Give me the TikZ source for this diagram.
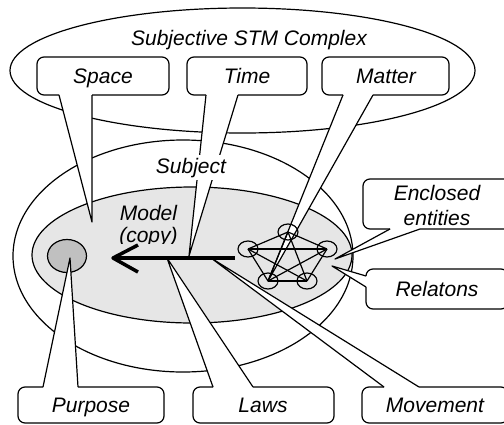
\documentclass[tikz,border=0pt]{standalone}
\usepackage{fontspec}
\setmainfont{Liberation Sans}
\usetikzlibrary{shapes.geometric}
\definecolor{lgrey}{HTML}{E6E6E6}
\definecolor{mgrey}{HTML}{C0C0C0}
% callout with pointer on the bottom edge: x1, ytop, x2, ybot, base left, base right, tip
\newcommand\cbot[7]{%
  \fill[white,rounded corners=7pt] (#1,#2) rectangle (#3,#4);
  \fill[white] (#5,#4) -- (#7) -- (#6,#4) -- cycle;
  \draw[lw,rounded corners=7pt] (#6,#4) -- (#3,#4) -- (#3,#2) -- (#1,#2) -- (#1,#4) -- (#5,#4);
  \draw[lw,line join=round] (#5,#4) -- (#7) -- (#6,#4);
}
% callout with pointer on the top edge
\newcommand\ctop[7]{%
  \fill[white,rounded corners=7pt] (#1,#2) rectangle (#3,#4);
  \fill[white] (#5,#2) -- (#7) -- (#6,#2) -- cycle;
  \draw[lw,rounded corners=7pt] (#5,#2) -- (#1,#2) -- (#1,#4) -- (#3,#4) -- (#3,#2) -- (#6,#2);
  \draw[lw,line join=round] (#5,#2) -- (#7) -- (#6,#2);
}
\begin{document}
\begin{tikzpicture}[x=1pt,y=-1pt,
  lw/.style={line width=1.2pt},
  lbl/.style={font=\fontsize{21}{24}\selectfont\itshape, inner sep=0pt, anchor=base},
  pent/.style={draw, lw, ellipse, minimum width=20pt, minimum height=16pt, inner sep=0pt}]
\useasboundingbox (0,0) rectangle (504,424);
\clip (0,0) rectangle (504,424);

% ellipses
\draw[lw] (242.5,70.5) ellipse [x radius=232.5pt, y radius=62.5pt];
\draw[lw] (183,256) ellipse [x radius=170pt, y radius=116pt];
\draw[lw, fill=lgrey] (192,255) ellipse [x radius=160pt, y radius=68pt];

% purpose circle
\node[draw, lw, ellipse, fill=mgrey, minimum width=39pt, minimum height=33pt, inner sep=0pt] (purp) at (67,256) {};

% pointer tips
\coordinate (spaceTip) at (92,222);
\coordinate (timeTip) at (189,256);
\coordinate (matterTip) at (268,281);
\coordinate (encTip) at (335,259);
\coordinate (relTip) at (332,266);
\coordinate (purpTip) at (70,258);
\coordinate (lawsTip) at (167,258);
\coordinate (moveTip) at (211,258);

% callouts
\cbot{37}{57}{169}{95}{59}{92}{spaceTip}
\cbot{187}{57}{307}{95}{206}{238}{timeTip}
\cbot{322}{57}{449}{95}{343}{373}{matterTip}
\cbot{363}{179}{511}{229}{390}{420}{encTip}
\ctop{18}{387}{164}{423}{43}{78}{purpTip}
\ctop{193}{387}{334}{423}{213}{253}{lawsTip}
\ctop{362}{387}{508}{423}{384}{419}{moveTip}
% Relatons (pointer on left edge)
\fill[white,rounded corners=7pt] (366,269) rectangle (508,309);
\fill[white] (366,276) -- (relTip) -- (366,287) -- cycle;
\draw[lw,rounded corners=7pt] (366,287) -- (366,309) -- (508,309) -- (508,269) -- (366,269) -- (366,276);
\draw[lw,line join=round] (366,276) -- (relTip) -- (366,287);

% arrow
\coordinate (arrS) at (235,258);
\coordinate (arrT) at (113,258);
\coordinate (arrU) at (138,245);
\coordinate (arrD) at (138,272);
\draw[line width=4pt] (arrS) -- (arrT);
\draw[line width=3.5pt, line join=round] (arrU) -- (arrT) -- (arrD);

% entities graph
\node[pent] (p1) at (288,232) {};
\node[pent] (p2) at (248,249) {};
\node[pent] (p3) at (327,249) {};
\node[pent] (p4) at (268,281) {};
\node[pent] (p5) at (307,281) {};
\foreach \a/\b in {p1/p2,p1/p3,p1/p4,p1/p5,p2/p3,p2/p4,p2/p5,p3/p4,p3/p5,p4/p5}
  \draw[lw] (\a.center) -- (\b.center);

% labels
\node[lbl] (stm) at (249,45) {Subjective STM Complex};
\node[lbl] (space) at (103,83) {Space};
\node[lbl] (time) at (247,83) {Time};
\node[lbl] (matter) at (386,83) {Matter};
\node[lbl, fill=white, inner sep=3pt] (subject) at (191,173) {Subject};
\begin{scope}
  \clip (100,195) rectangle (200,243.5);
  \node[lbl] (model) at (148.5,220.5) {Model};
  \node[lbl] (copy) at (148.5,242.5) {(copy)};
\end{scope}
\node[lbl] (enc1) at (437,200.5) {Enclosed};
\node[lbl] (enc2) at (437,225) {entities};
\node[lbl] (rel) at (437,296) {Relatons};
\node[lbl] (purpose) at (91,412) {Purpose};
\node[lbl] (laws) at (263,412) {Laws};
\node[lbl] (move) at (435,412) {Movement};
\end{tikzpicture}
\end{document}
